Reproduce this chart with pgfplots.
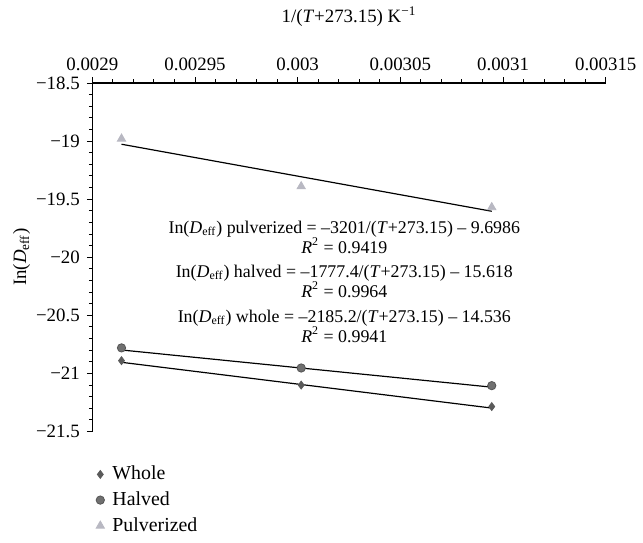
\documentclass[border=0pt]{standalone}
\usepackage{fontspec}
\setmainfont{Liberation Serif}
\usepackage{pgfplots}
\pgfplotsset{compat=1.18}
\definecolor{whole}{HTML}{5A5A5A}
\definecolor{halvedfill}{HTML}{707070}
\definecolor{halvededge}{HTML}{555555}
\definecolor{pulv}{HTML}{B8B8C2}
\begin{document}
\begin{tikzpicture}
\begin{axis}[name=ax, scale only axis, width=258.5pt, height=175.5pt,
  xmin=0.0029, xmax=0.00315, ymin=-21.5, ymax=-18.5,
  axis x line=top, axis y line=left,
  axis line style={-, line width=0.6pt},
  tick align=outside,
  xtick={0.0029,0.00295,0.003,0.00305,0.0031,0.00315},
  xticklabels={0.0029,0.00295,0.003,0.00305,0.0031,0.00315},
  ytick={-21.5,-21,-20.5,-20,-19.5,-19,-18.5},
  yticklabels={−21.5,−21,−20.5,−20,−19.5,−19,−18.5},
  scaled x ticks=false,
  minor x tick num=4, minor y tick num=4,
  major tick length=2.8pt, minor tick length=1.8pt,
  tick style={black, line width=0.5pt},
  tick label style={font=\fontsize{9.5}{11}\selectfont},
  clip=false,
  xlabel={1/(\textit{T}+273.15) K\textsuperscript{−1}},
  xlabel style={font=\fontsize{9.5}{11}\selectfont, at={(axis description cs:0.5,1.19)}, anchor=center},
  ylabel={In(\textit{D}\textsubscript{eff})},
  ylabel style={font=\fontsize{9.5}{11}\selectfont, at={(axis description cs:-0.138,0.5)}, anchor=center, rotate=0},
  legend style={at={(axis description cs:-0.005,-0.075)}, anchor=north west, draw=none, fill=none,
    font=\fontsize{10}{12}\selectfont, row sep=0.5pt, column sep=2pt, legend cell align=left},
]
% fit lines
\addplot[black, line width=0.6pt, forget plot] coordinates {(0.0029142,-19.027) (0.0030945,-19.604)};
\addplot[black, line width=0.6pt, forget plot] coordinates {(0.0029142,-20.798) (0.0030945,-21.118)};
\addplot[black, line width=0.6pt, forget plot] coordinates {(0.0029142,-20.904) (0.0030945,-21.298)};
% data
\addplot[only marks, mark=diamond*, mark size=2pt, mark options={fill=whole, draw=whole}] coordinates {
  (0.0029142,-20.89) (0.0030017,-21.10) (0.0030945,-21.285)};
\addlegendentry{Whole}
\addplot[only marks, mark=*, mark size=2.1pt, mark options={fill=halvedfill, draw=halvededge, line width=0.4pt}] coordinates {
  (0.0029142,-20.78) (0.0030017,-20.953) (0.0030945,-21.105)};
\addlegendentry{Halved}
\addplot[only marks, mark=triangle*, mark size=2.4pt, mark options={fill=pulv, draw=pulv}] coordinates {
  (0.0029142,-18.98) (0.0030017,-19.39) (0.0030945,-19.57)};
\addlegendentry{Pulverized}
% equations
\node[align=center, font=\fontsize{9}{10}\selectfont] at (axis cs:0.0030227,-19.829)
  {In(\textit{D}\textsubscript{eff}) pulverized = –3201/(\textit{T}+273.15) – 9.6986\\ \textit{R}\textsuperscript{2} = 0.9419};
\node[align=center, font=\fontsize{9}{10}\selectfont] at (axis cs:0.0030227,-20.205)
  {In(\textit{D}\textsubscript{eff}) halved = –1777.4/(\textit{T}+273.15) – 15.618\\ \textit{R}\textsuperscript{2} = 0.9964};
\node[align=center, font=\fontsize{9}{10}\selectfont] at (axis cs:0.0030227,-20.594)
  {In(\textit{D}\textsubscript{eff}) whole = –2185.2/(\textit{T}+273.15) – 14.536\\ \textit{R}\textsuperscript{2} = 0.9941};
\end{axis}
\path (ax.south west) ++(-46.5pt,-48.5pt) rectangle ++(321.5pt,265.5pt);
\end{tikzpicture}
\end{document}
